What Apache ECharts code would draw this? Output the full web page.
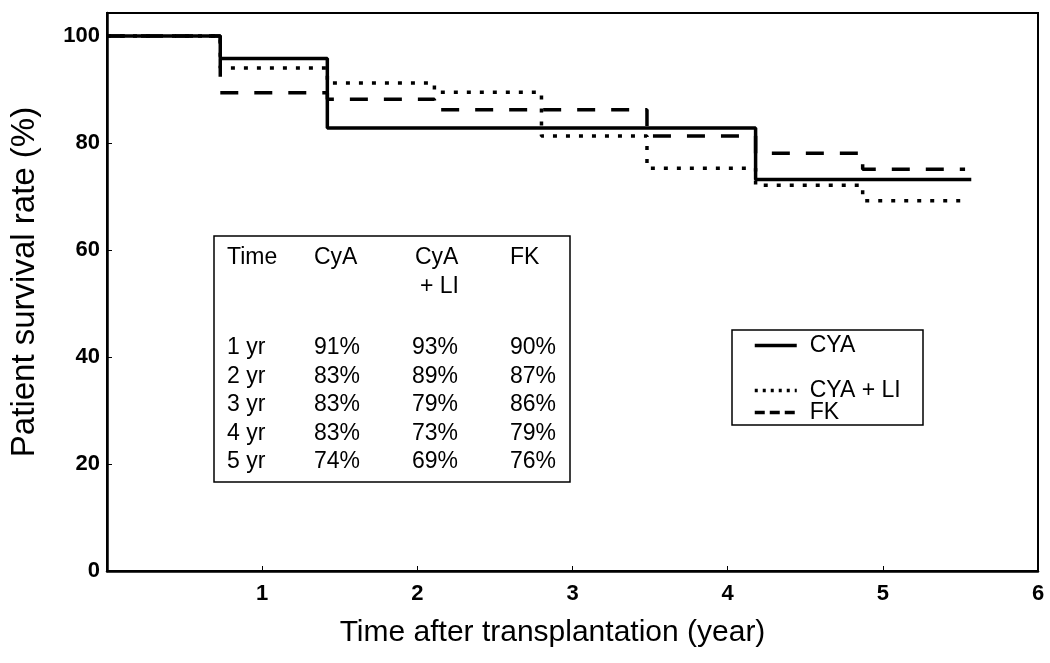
<!DOCTYPE html>
<html>
<head>
<meta charset="utf-8" />
<title>Patient survival rate</title>
<script src="https://cdn.jsdelivr.net/npm/echarts@6/dist/echarts.min.js"></script>
<style>
  html, body { margin: 0; padding: 0; background: #fff; }
  #main { width: 1050px; height: 663px; }
</style>
</head>
<body>
<div id="main"></div>
<script>
// 生存曲线数据 (年, %)
const cyaT = [0, 0.73, 1.42, 4.18, 5.57];
const cyaV = [100, 95.8, 82.8, 73.2, 73.2];
const liT = [0, 0.73, 1.42, 2.11, 2.80, 3.48, 4.18, 4.87, 5.55];
const liV = [100, 94.0, 91.2, 89.5, 81.3, 75.3, 72.1, 69.2, 69.2];
const fkT = [0, 0.73, 1.42, 2.11, 3.48, 4.18, 4.87, 5.53];
const fkV = [100, 89.4, 88.2, 86.2, 81.3, 78.1, 75.1, 75.1];
const seriesNames = ['CYA', 'CYA + LI', 'FK'];

// 表格
const tableHead = ['Time', 'CyA', 'CyA', 'FK'];
const tableHead2 = ['', '', '+ LI', ''];
const tableRows = [
  ['1 yr', '91%', '93%', '90%'],
  ['2 yr', '83%', '89%', '87%'],
  ['3 yr', '83%', '79%', '86%'],
  ['4 yr', '83%', '73%', '79%'],
  ['5 yr', '74%', '69%', '76%']
];

const FONT = '"Liberation Sans", Arial, sans-serif';
const zip = (t, v) => t.map((x, i) => [x, v[i]]);

const chart = echarts.init(document.getElementById('main'));

// 表格 graphic
const colX = [227, 314, 412, 510];
const tableGraphic = [{
  type: 'rect',
  shape: { x: 214, y: 236, width: 356, height: 246 },
  style: { fill: 'none', stroke: '#000', lineWidth: 1.5 },
  z: 10
}];
tableHead.forEach(function (h, i) {
  tableGraphic.push({
    type: 'text', x: colX[i] + (i === 2 ? 3 : 0), y: 258, z: 11,
    style: { text: h, font: '23px ' + FONT, fill: '#000', verticalAlign: 'middle' }
  });
  if (tableHead2[i]) {
    tableGraphic.push({
      type: 'text', x: colX[i] + 8, y: 287, z: 11,
      style: { text: tableHead2[i], font: '23px ' + FONT, fill: '#000', verticalAlign: 'middle' }
    });
  }
});
tableRows.forEach(function (row, r) {
  row.forEach(function (cell, c) {
    tableGraphic.push({
      type: 'text', x: colX[c], y: 348 + r * 28.5, z: 11,
      style: { text: cell, font: '23px ' + FONT, fill: '#000', verticalAlign: 'middle' }
    });
  });
});
// 图例边框
tableGraphic.push({
  type: 'rect',
  shape: { x: 732, y: 330, width: 191, height: 95 },
  style: { fill: 'none', stroke: '#000', lineWidth: 1.5 },
  z: 10
});

const legendTops = [334, 379, 401];
const legendDash = ['solid', [3, 5], [10, 5]];
const legendBase = {
  left: 753, orient: 'vertical', padding: 0,
  itemWidth: 42, itemHeight: 14,
  itemStyle: { color: 'rgba(0,0,0,0)', borderWidth: 0, opacity: 0 },
  textStyle: { color: '#000', fontSize: 23, fontFamily: FONT, lineHeight: 22, padding: [0, 0, 0, 8] },
  selectedMode: false
};

const option = {
  animation: false,
  backgroundColor: '#fff',
  grid: {
    left: 106, right: 12, top: 13, bottom: 92,
    show: true, borderColor: '#000', borderWidth: 2
  },
  legend: seriesNames.map(function (n, i) {
    return Object.assign({}, legendBase, {
      top: legendTops[i], data: [n],
      lineStyle: { color: '#000', width: 3.5, type: legendDash[i] }
    });
  }),
  xAxis: {
    type: 'value', min: 0, max: 6, interval: 1,
    name: 'Time after transplantation (year)',
    nameLocation: 'middle', nameGap: 47,
    nameTextStyle: { color: '#000', fontSize: 30, fontFamily: FONT, padding: [0, 40, 0, 0] },
    axisLine: { lineStyle: { color: '#000', width: 2.5 } },
    axisTick: { inside: true, length: 5, lineStyle: { color: '#000' } },
    axisLabel: {
      color: '#000', fontSize: 22, fontWeight: 'bold', fontFamily: FONT, margin: 12,
      formatter: function (v) { return v === 0 ? '' : v; }
    },
    splitLine: { show: false }
  },
  yAxis: {
    type: 'value', min: 0, max: 104.3, interval: 20,
    name: 'Patient survival rate (%)',
    nameLocation: 'middle', nameGap: 66,
    nameTextStyle: { color: '#000', fontSize: 33, fontFamily: FONT, padding: [0, 0, 0, 20] },
    axisLine: { show: true, lineStyle: { color: '#000', width: 2.5 } },
    axisTick: { inside: true, length: 5, lineStyle: { color: '#000' } },
    axisLabel: {
      color: '#000', fontSize: 22, fontWeight: 'bold', fontFamily: FONT, margin: 7,
      showMaxLabel: false
    },
    splitLine: { show: false }
  },
  graphic: tableGraphic,
  series: [{
    name: 'CYA', type: 'line', step: 'end', symbol: 'none', z: 5,
    lineStyle: { color: '#000', width: 3.5, type: 'solid' },
    itemStyle: { color: '#000' },
    data: zip(cyaT, cyaV)
  }, {
    name: 'CYA + LI', type: 'line', step: 'end', symbol: 'none', z: 4,
    lineStyle: { color: '#000', width: 3.5, type: [4, 9] },
    itemStyle: { color: '#000' },
    data: zip(liT, liV)
  }, {
    name: 'FK', type: 'line', step: 'end', symbol: 'none', z: 3,
    lineStyle: { color: '#000', width: 3.5, type: [18, 16] },
    itemStyle: { color: '#000' },
    data: zip(fkT, fkV)
  }]
};

chart.setOption(option);
window.onresize = function () { chart.resize(); };
</script>
</body>
</html>
